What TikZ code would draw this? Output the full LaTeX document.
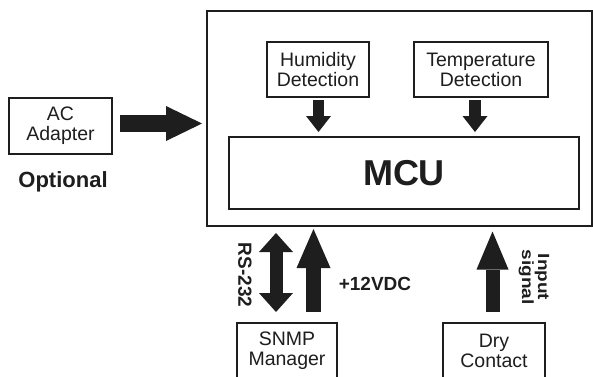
\documentclass[tikz,border=0pt]{standalone}
\usepackage{fontspec}
\setmainfont{Liberation Sans}
\usetikzlibrary{arrows.meta}
\definecolor{ink}{HTML}{1E1E1E}
\begin{document}
\begin{tikzpicture}[x=1pt,y=-1pt,
  box/.style={draw=ink,line width=1.5pt,inner sep=0pt,align=center,text=ink,
    font=\fontsize{19.5}{20}\selectfont},
  lbl/.style={text=ink,inner sep=0pt,font=\bfseries\fontsize{19}{19}\selectfont},
  blk/.style={draw=ink,fill=ink,line width=#1},
  tip/.style n args={2}{-{Triangle[width=#1pt,length=#2pt,line width=0pt]}},
  dtip/.style n args={2}{{Triangle[width=#1pt,length=#2pt,line width=0pt]}-{Triangle[width=#1pt,length=#2pt,line width=0pt]}}
]
\useasboundingbox (0,0) rectangle (593,376);
\clip (0,0) rectangle (593,376);
\fill[white] (0,0) rectangle (593,376);

% boxes
\node[box,minimum width=385pt,minimum height=215pt] (dev) at (399.5,118.5) {};
\node[box,minimum width=350pt,minimum height=72pt,font=\bfseries\fontsize{36}{36}\selectfont] (mcu) at (404,173) {MCU};
\node[box,minimum width=102pt,minimum height=55pt] (hum) at (318,69.5) {Humidity\\Detection};
\node[box,minimum width=134pt,minimum height=55pt] (temp) at (481,69.5) {Temperature\\Detection};
\node[box,minimum width=103pt,minimum height=56pt] (ac) at (60.5,126) {AC\\Adapter};
\node[box,minimum width=100pt,minimum height=56pt] (snmp) at (287,351) {SNMP\\Manager};
\node[box,minimum width=102pt,minimum height=56pt] (dry) at (494,351) {Dry\\Contact};

% labels
\node[lbl,anchor=base,font=\bfseries\fontsize{22}{22}\selectfont] (opt) at (63,187) {Optional};
\node[lbl,rotate=-90] (rs) at (245,275) {RS-232};
\node[lbl,anchor=base] (v12) at (375,290) {+12VDC};
\node[lbl,rotate=-90] (insig) at (534,277) {\scalebox{1}[0.85]{\parbox{4em}{\centering\fontsize{19}{19}\selectfont Input\\signal}}};

% arrow end points
\coordinate (acA) at (120,123.5);
\coordinate (acB) at (202,123.5);
\coordinate (humA) at (318.5,100);
\coordinate (humB) at (318.5,132);
\coordinate (tempA) at (475,100);
\coordinate (tempB) at (475,132);
\coordinate (rsA) at (276,233);
\coordinate (rsB) at (276,312);
\coordinate (pwA) at (313.5,311.5);
\coordinate (pwB) at (313.5,229);
\coordinate (dcA) at (492.5,312);
\coordinate (dcB) at (492.5,231.5);

% block arrows
\draw[blk=17pt,tip={35}{36}] (acA) -- (acB);
\draw[blk=11.5pt,tip={25}{16}] (humA) -- (humB);
\draw[blk=11.5pt,tip={25}{16}] (tempA) -- (tempB);
\draw[blk=13pt,dtip={34}{19}] (rsA) -- (rsB);
\draw[blk=15pt,tip={34}{39}] (pwA) -- (pwB);
\draw[blk=14pt,tip={32}{38}] (dcA) -- (dcB);
\end{tikzpicture}
\end{document}
